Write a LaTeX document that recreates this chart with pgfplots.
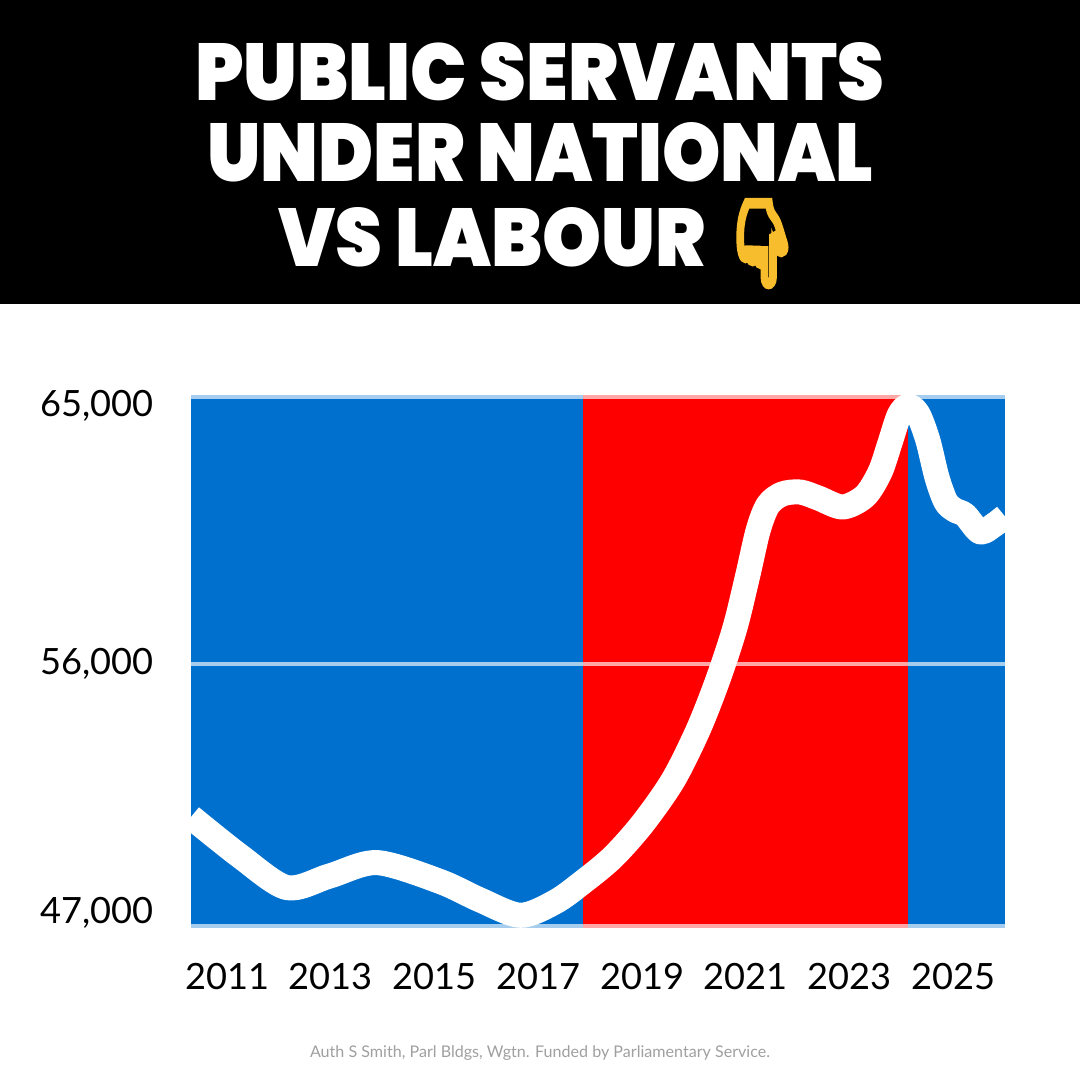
\documentclass[border=0pt]{standalone}
\usepackage{fontspec}
\usepackage{graphicx}
\usepackage{pgfplots}
\pgfplotsset{compat=1.18}
\IfFontExistsTF{Poppins Black}{\newfontfamily\titlefont{Poppins Black}}{%
  \IfFontExistsTF{Poppins ExtraBold}{\newfontfamily\titlefont{Poppins ExtraBold}}{%
    \newfontfamily\titlefontbase{Poppins}\newcommand\titlefont{\titlefontbase\bfseries}}}
\setmainfont{Lato}
\newfontfamily\tickfont{Lato}
\newfontfamily\emojifont{Noto Emoji}[FakeBold=9]
\definecolor{natblue}{HTML}{0070CE}
\definecolor{labred}{HTML}{FF0000}
\definecolor{emojiyellow}{HTML}{F8BD2C}
\definecolor{footgray}{HTML}{A0A0A0}
\begin{document}
\begin{tikzpicture}
\path[use as bounding box] (0,0) rectangle (540pt,540pt);
\fill[white] (0,0) rectangle (540pt,540pt);
\fill[black] (0,388pt) rectangle (540pt,540pt);
\node[anchor=base west, inner sep=0pt, text=white] at (97.5pt,489.5pt)
  {\resizebox{344.5pt}{29pt}{\titlefont PUBLIC SERVANTS}};
\node[anchor=base west, inner sep=0pt, text=white] at (103.5pt,449pt)
  {\resizebox{333pt}{29.5pt}{\titlefont UNDER NATIONAL}};
\node[anchor=base west, inner sep=0pt, text=white] at (139pt,406.5pt)
  {\resizebox{213.5pt}{29.5pt}{\titlefont VS LABOUR}};
\node[anchor=south west, inner sep=0pt, text=emojiyellow] at (362pt,397pt)
  {\resizebox*{38pt}{42pt}{\emojifont 👇}};
\begin{axis}[
  at={(95.5pt,76pt)}, anchor=south west,
  scale only axis, width=407pt, height=266.5pt,
  xmin=2010.3, xmax=2026, ymin=46966, ymax=65207,
  axis line style={draw=none},
  major tick length=0pt,
  scaled y ticks=false, scaled x ticks=false,
  xtick={2011,2013,2015,2017,2019,2021,2023,2025},
  xticklabels={2011,2013,2015,2017,2019,2021,2023,2025},
  ytick={47480,56000,64830},
  yticklabels={{47,000},{56,000},{65,000}},
  /pgf/number format/assume math mode=true,
  ticklabel style={font={\tickfont\fontsize{18.1pt}{20pt}\selectfont}, text=black},
  xticklabel style={anchor=center, yshift=-24.5pt},
  yticklabel style={anchor=east, xshift=-15pt},
]
\addplot[draw=none, fill=natblue] coordinates {(2010.3,46966) (2017.86,46966) (2017.86,65207) (2010.3,65207)} -- cycle;
\addplot[draw=none, fill=labred] coordinates {(2017.86,46966) (2024.12,46966) (2024.12,65207) (2017.86,65207)} -- cycle;
\addplot[draw=none, fill=natblue] coordinates {(2024.12,46966) (2026,46966) (2026,65207) (2024.12,65207)} -- cycle;
\addplot[white, opacity=0.65, line width=2pt] coordinates {(2010.3,56000) (2026,56000)};
\addplot[white, opacity=0.65, line width=2pt] coordinates {(2010.3,65140) (2026,65140)};
\addplot[white, opacity=0.65, line width=2pt] coordinates {(2010.3,47034) (2026,47034)};
\addplot[white, line width=12.5pt, smooth, line join=round] coordinates {
(2010.30,50765) (2011.25,49420) (2012.15,48348) (2012.98,48750) (2013.89,49204)
(2015.10,48560) (2015.87,47930) (2016.65,47400) (2017.32,47855) (2017.86,48540)
(2018.44,49395) (2019.02,50558) (2019.60,52030) (2020.08,53741) (2020.46,55452)
(2020.79,57232) (2021.04,59045) (2021.24,60585) (2021.43,61441) (2021.70,61817)
(2022.05,61886) (2022.40,61680) (2022.87,61374) (2023.30,61750) (2023.59,62570)
(2023.78,63560) (2023.96,64520) (2024.13,64830) (2024.32,64560) (2024.51,63670)
(2024.69,62370) (2024.86,61550) (2025.03,61270) (2025.23,61100) (2025.52,60520)
(2025.78,60750) (2026.00,61050)};
\end{axis}
\node[inner sep=0pt, text=footgray] at (270pt,13.5pt)
  {\resizebox{230pt}{!}{Auth S Smith, Parl Bldgs, Wgtn. Funded by Parliamentary Service.}};
\end{tikzpicture}
\end{document}
